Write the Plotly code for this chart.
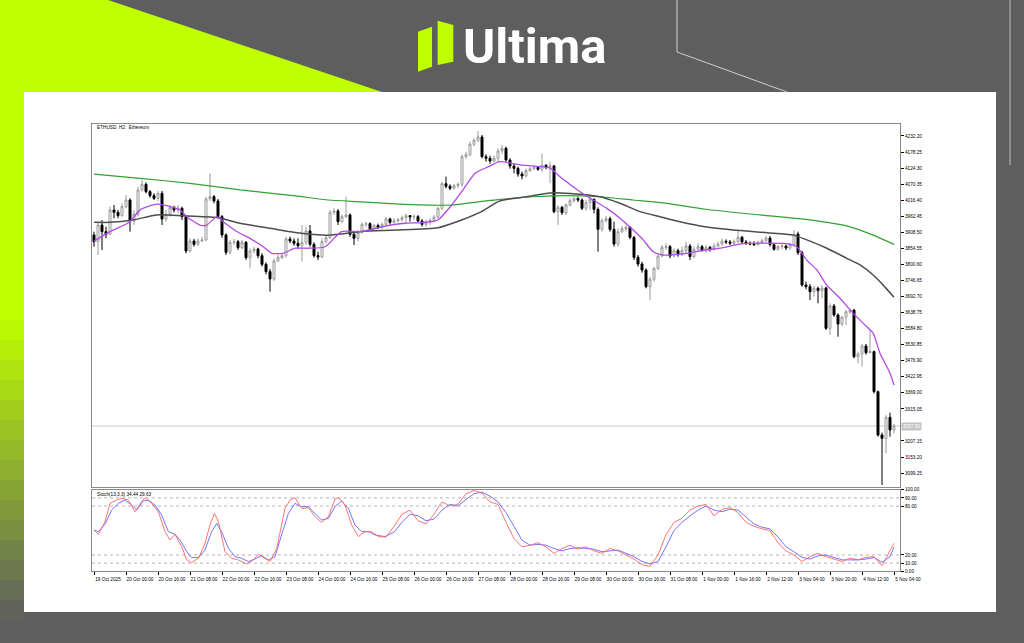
import plotly.graph_objects as go

W, H = 1024, 643


def px(x):
    return x / W


def py(y):
    return 1 - y / H


def poly(points):
    return 'M ' + ' L '.join(f'{px(x):.5f},{py(y):.5f}' for x, y in points) + ' Z'


# ---- ETHUSD H2 candles (bar index 0..200) ----
opens = [
    3899.5, 3877.1, 3933.1, 3910.7, 3901.7, 3983.5, 3975.7, 3964.5, 3994.7, 4017.1,
    3946.6, 3969.0, 4050.7, 4069.8, 4045.1, 4031.7, 4022.7, 4039.5, 3953.3, 3969.0,
    3991.4, 3983.5, 3989.1, 3961.1, 3845.7, 3879.3, 3868.1, 3879.3, 3882.7, 4020.5,
    4028.3, 4013.8, 3961.1, 3899.5, 3841.2, 3874.9, 3877.1, 3856.9, 3874.9, 3823.3,
    3845.7, 3852.4, 3830.0, 3800.9, 3776.3, 3751.6, 3812.1, 3823.3, 3830.0, 3886.1,
    3879.3, 3871.5, 3863.6, 3874.9, 3912.9, 3868.1, 3830.0, 3825.6, 3877.1, 3890.5,
    3975.7, 3980.2, 3944.3, 3961.1, 3966.7, 3901.7, 3888.3, 3908.5, 3935.4, 3937.6,
    3919.7, 3930.9, 3924.1, 3935.4, 3953.3, 3942.1, 3946.6, 3951.0, 3957.8, 3964.5,
    3960.0, 3961.1, 3946.6, 3935.4, 3942.1, 3948.8, 3960.0, 3989.1, 4072.0, 4063.1,
    4056.3, 4065.3, 4069.8, 4162.8, 4170.6, 4204.2, 4217.7, 4228.9, 4162.8, 4157.2,
    4148.2, 4157.2, 4181.8, 4190.8, 4151.5, 4131.4, 4123.5, 4104.5, 4097.8, 4115.7,
    4122.4, 4126.9, 4120.2, 4133.6, 4126.9, 4131.4, 3977.9, 3992.5, 3974.5, 4000.3,
    4014.9, 4021.6, 4017.1, 3989.1, 4008.2, 4019.3, 3985.8, 3918.5, 3947.6, 3954.3,
    3918.5, 3869.2, 3910.7, 3920.8, 3925.2, 3891.6, 3824.4, 3802.0, 3781.8, 3725.8,
    3750.5, 3787.4, 3828.9, 3858.0, 3860.3, 3828.9, 3846.8, 3833.4, 3846.8, 3862.5,
    3826.7, 3851.3, 3860.3, 3849.1, 3858.0, 3851.3, 3862.5, 3869.2, 3878.2, 3876.0,
    3871.5, 3877.1, 3891.6, 3876.0, 3871.5, 3869.2, 3867.0, 3873.7, 3880.4, 3889.4,
    3867.0, 3851.3, 3860.3, 3862.5, 3855.8, 3867.0, 3902.8, 3840.1, 3731.4, 3725.8,
    3709.0, 3720.2, 3712.4, 3721.4, 3585.8, 3660.9, 3630.6, 3600.4, 3622.8, 3641.8,
    3647.4, 3490.6, 3499.5, 3526.4, 3504.0, 3507.4, 3372.9, 3227.3, 3216.1, 3286.7,
    3244.1,
]
highs = [
    3910.7, 3944.3, 3949.9, 3927.5, 3994.7, 4000.3, 3983.5, 4005.9, 4033.9, 4022.7,
    3983.5, 4061.9, 4084.4, 4076.5, 4050.7, 4039.5, 4047.4, 4047.4, 3983.5, 4000.3,
    3998.1, 4000.3, 3994.7, 3966.7, 3888.3, 3886.1, 3888.3, 3893.9, 4028.3, 4106.8,
    4033.9, 4020.5, 3966.7, 3905.1, 3882.7, 3886.1, 3882.7, 3882.7, 3879.3, 3854.7,
    3860.3, 3856.9, 3837.9, 3807.6, 3785.2, 3821.1, 3832.3, 3837.9, 3893.9, 3893.9,
    3888.3, 3888.3, 3933.1, 3927.5, 3933.1, 3874.9, 3843.5, 3888.3, 3899.5, 3983.5,
    3989.1, 3986.9, 3969.0, 4028.3, 3972.3, 3912.9, 3916.3, 3942.1, 3944.3, 3942.1,
    3937.6, 3937.6, 3942.1, 3960.0, 3957.8, 3955.5, 3957.8, 3964.5, 3971.2, 3966.7,
    3969.0, 3966.7, 3953.3, 3949.9, 3955.5, 3966.7, 3994.7, 4078.7, 4095.6, 4069.8,
    4072.0, 4076.5, 4170.6, 4179.6, 4213.2, 4224.4, 4249.0, 4235.6, 4170.6, 4166.1,
    4166.1, 4190.8, 4202.0, 4196.4, 4157.1, 4138.1, 4129.1, 4112.3, 4123.5, 4129.1,
    4133.6, 4131.4, 4173.9, 4138.1, 4145.9, 4134.7, 4000.3, 3996.9, 4006.0, 4022.7,
    4028.3, 4028.3, 4022.7, 4017.1, 4028.3, 4022.7, 3992.5, 3955.5, 3963.3, 3961.1,
    3944.3, 3921.9, 3929.7, 3933.1, 3929.7, 3896.1, 3832.3, 3809.8, 3787.4, 3759.4,
    3793.1, 3837.9, 3865.9, 3871.5, 3865.9, 3854.7, 3853.6, 3860.3, 3877.1, 3869.2,
    3860.3, 3871.5, 3865.9, 3865.9, 3862.5, 3871.5, 3877.1, 3888.3, 3884.9, 3882.7,
    3884.9, 3916.3, 3896.1, 3882.7, 3878.2, 3878.2, 3880.4, 3887.2, 3896.1, 3896.1,
    3871.5, 3864.8, 3869.2, 3867.0, 3871.5, 3916.3, 3910.7, 3846.8, 3742.6, 3734.8,
    3728.1, 3725.8, 3731.4, 3725.8, 3669.8, 3667.6, 3636.2, 3627.3, 3647.4, 3653.0,
    3649.7, 3507.4, 3533.2, 3533.2, 3580.2, 3510.7, 3376.3, 3235.1, 3294.5, 3302.4,
    3264.3,
]
lows = [
    3860.3, 3832.3, 3849.1, 3888.3, 3899.5, 3955.5, 3955.5, 3961.1, 3989.1, 3910.7,
    3933.1, 3961.1, 4045.1, 4039.5, 4025.0, 4017.1, 4013.8, 3933.1, 3944.3, 3961.1,
    3975.7, 3972.3, 3949.9, 3837.9, 3841.2, 3860.3, 3863.6, 3874.9, 3879.3, 4013.8,
    4005.9, 3955.5, 3890.5, 3832.3, 3834.5, 3865.9, 3849.1, 3852.4, 3815.5, 3787.5,
    3837.9, 3821.1, 3793.1, 3767.3, 3709.0, 3744.9, 3807.6, 3818.8, 3823.3, 3871.5,
    3863.6, 3852.4, 3809.9, 3865.9, 3860.3, 3823.3, 3815.5, 3821.1, 3871.5, 3886.1,
    3966.7, 3933.1, 3938.7, 3955.5, 3893.9, 3865.9, 3877.1, 3904.0, 3926.4, 3912.9,
    3917.4, 3919.7, 3919.7, 3930.9, 3935.4, 3937.6, 3942.1, 3944.3, 3935.4, 3944.3,
    3949.9, 3942.1, 3927.5, 3926.4, 3933.1, 3944.3, 3953.3, 3983.5, 4056.3, 4049.6,
    4051.9, 4056.3, 4061.9, 4154.9, 4163.9, 4197.5, 4210.9, 4157.2, 4146.0, 4139.2,
    4143.7, 4146.0, 4171.7, 4145.9, 4122.4, 4106.7, 4095.5, 4086.6, 4093.3, 4111.2,
    4117.9, 4115.7, 4111.2, 4120.2, 4073.1, 3972.3, 3933.1, 3966.7, 3966.7, 3994.7,
    4008.2, 4010.4, 3983.5, 3981.2, 3983.5, 3972.3, 3843.5, 3910.7, 3940.9, 3910.7,
    3860.3, 3860.3, 3905.1, 3910.7, 3884.9, 3815.4, 3793.1, 3772.9, 3720.2, 3681.0,
    3742.6, 3781.8, 3824.4, 3849.1, 3821.1, 3824.4, 3826.7, 3828.9, 3835.6, 3815.4,
    3821.1, 3846.8, 3843.5, 3840.1, 3843.5, 3846.8, 3858.0, 3862.5, 3869.2, 3865.9,
    3867.0, 3871.5, 3869.2, 3865.9, 3864.8, 3862.5, 3864.8, 3869.2, 3876.0, 3860.3,
    3846.8, 3846.8, 3851.3, 3849.1, 3849.1, 3860.3, 3832.3, 3725.8, 3716.9, 3681.0,
    3692.2, 3669.8, 3686.6, 3580.2, 3563.4, 3625.0, 3557.8, 3593.6, 3597.0, 3634.0,
    3485.0, 3468.2, 3457.0, 3497.3, 3501.8, 3367.3, 3221.7, 3059.3, 3165.7, 3221.7,
    3232.9,
]
closes = [
    3877.1, 3933.1, 3910.7, 3901.7, 3983.5, 3975.7, 3964.5, 3994.7, 4017.1, 3946.6,
    3969.0, 4050.7, 4069.8, 4045.1, 4031.7, 4022.7, 4039.5, 3953.3, 3969.0, 3991.4,
    3983.5, 3989.1, 3961.1, 3845.7, 3879.3, 3868.1, 3879.3, 3882.7, 4020.5, 4028.3,
    4013.8, 3961.1, 3899.5, 3841.2, 3874.9, 3877.1, 3856.9, 3874.9, 3823.3, 3845.7,
    3852.4, 3830.0, 3800.9, 3776.3, 3751.6, 3812.1, 3823.3, 3830.0, 3886.1, 3879.3,
    3871.5, 3863.6, 3874.9, 3912.9, 3868.1, 3830.0, 3825.6, 3877.1, 3890.5, 3975.7,
    3980.2, 3944.3, 3961.1, 3966.7, 3901.7, 3888.3, 3908.5, 3935.4, 3937.6, 3919.7,
    3930.9, 3924.1, 3935.4, 3953.3, 3942.1, 3946.6, 3951.0, 3957.8, 3964.5, 3960.0,
    3961.1, 3946.6, 3935.4, 3942.1, 3948.8, 3960.0, 3989.1, 4072.0, 4063.1, 4056.3,
    4065.3, 4069.8, 4162.8, 4170.6, 4204.2, 4217.7, 4228.9, 4162.8, 4157.2, 4148.2,
    4157.2, 4181.8, 4190.8, 4151.5, 4131.4, 4123.5, 4104.5, 4097.8, 4115.7, 4122.4,
    4126.9, 4120.2, 4133.6, 4126.9, 4131.4, 3977.9, 3992.5, 3974.5, 4000.3, 4014.9,
    4021.6, 4017.1, 3989.1, 4008.2, 4019.3, 3985.8, 3918.5, 3947.6, 3954.3, 3918.5,
    3869.2, 3910.7, 3920.8, 3925.2, 3891.6, 3824.4, 3802.0, 3781.8, 3725.8, 3750.5,
    3787.4, 3828.9, 3858.0, 3860.3, 3828.9, 3846.8, 3833.4, 3846.8, 3862.5, 3826.7,
    3851.3, 3860.3, 3849.1, 3858.0, 3851.3, 3862.5, 3869.2, 3878.2, 3876.0, 3871.5,
    3877.1, 3891.6, 3876.0, 3871.5, 3869.2, 3867.0, 3873.7, 3880.4, 3889.4, 3867.0,
    3851.3, 3860.3, 3862.5, 3855.8, 3867.0, 3902.8, 3840.1, 3731.4, 3725.8, 3709.0,
    3720.2, 3712.4, 3721.4, 3585.8, 3660.9, 3630.6, 3600.4, 3622.8, 3641.8, 3647.4,
    3490.6, 3499.5, 3526.4, 3504.0, 3507.4, 3372.9, 3227.3, 3216.1, 3286.7, 3244.1,
    3257.5,
]

# ---- moving averages (bar index, price) ----
ma_fast_x = [0, 4, 9, 11.5, 15.7, 19, 21.5, 23.2, 26.5, 28.2,
             30.7, 32.3, 35.7, 39, 42.3, 44.4, 47.3, 50.3, 53.6, 57.8,
             61.9, 66.9, 71.9, 77.8, 81.9, 86, 89.4, 91.9, 95.3, 98.6,
             101.5, 106.5, 114, 116.5, 121.5, 124.8, 128.2, 131.5, 134.8, 137.3,
             139.8, 142.3, 148.2, 152.8, 156.5, 161.5, 168.2, 174, 175.7, 178.2,
             180.7, 183.2, 186.5, 189.8, 193.2, 194.8, 196.5, 199, 200]
ma_fast = [3879, 3911, 3944, 3984, 4003, 3995, 3984, 3961, 3933, 3933,
           3961, 3944, 3911, 3888, 3860, 3838, 3838, 3855, 3855, 3860,
           3911, 3911, 3927, 3939, 3941, 3950, 4000, 4045, 4107, 4129,
           4146, 4135, 4124, 4095, 4045, 4017, 3989, 3956, 3916, 3883,
           3843, 3832, 3838, 3849, 3855, 3869, 3872, 3869, 3860, 3815,
           3782, 3731, 3687, 3636, 3591, 3569, 3502, 3435, 3395]

ma_mid_x = [0, 4, 9.8, 15.7, 22.3, 30.7, 36.5, 44, 50.3, 58.6,
            66.9, 75.3, 86, 91.9, 96.9, 101.5, 108.2, 114, 119, 126.5,
            131.5, 136.5, 141.5, 146.5, 152.8, 159.8, 168.2, 174.8, 178.2, 183.2,
            188.2, 191.5, 194.8, 197.3, 200]
ma_mid = [3942, 3942, 3950, 3967, 3964, 3958, 3939, 3922, 3908, 3899,
          3911, 3916, 3924, 3950, 3978, 4014, 4028, 4041, 4039, 4028,
          4006, 3978, 3961, 3944, 3927, 3916, 3907, 3899, 3883, 3855,
          3821, 3799, 3765, 3731, 3690]

ma_slow_x = [0, 11.5, 24, 36.5, 50.3, 58.6, 66.9, 75.3, 83.6, 89.4, 94.4, 101.5,
             109.8, 118.2, 126.5, 134.8, 143.2, 152.8, 166.5, 179, 189, 194.8, 200]
ma_slow = [4104, 4090, 4073, 4051, 4031, 4017, 4011, 4004, 4000, 4000, 4008, 4019,
           4028, 4032, 4028, 4017, 4006, 3986, 3967, 3950, 3927, 3899, 3868]

# ---- stochastic (13,3,3) ----
stoch_k_x = [0, 1.1, 2.75, 4, 5.7, 6.9, 8.6, 10.25, 11.9, 12.75,
             14.4, 16.1, 17.75, 19, 20.25, 21.9, 23.2, 24.4, 26.1, 27.75,
             29, 30.1, 31.1, 32.75, 34.4, 36.1, 38.2, 39.8, 41.1, 42.75,
             44, 45.7, 47.75, 49, 50.25, 51.9, 53.6, 55.25, 56.9, 58.6,
             60.25, 61.1, 62.75, 64.4, 66.1, 67.75, 69.4, 71.1,
             73, 75, 77, 79, 81, 83, 85, 87, 89, 91,
             93, 95, 97, 99, 101, 103, 105, 107, 109, 111,
             113, 115, 117, 119, 121, 123, 125, 127, 129, 131,
             133, 135, 137, 139, 141, 143, 145, 147, 149, 151,
             153, 155, 157, 159, 161, 163, 165, 167, 169, 171,
             173, 175, 177, 179, 181, 183, 185, 187, 189, 191,
             193, 195, 197, 199, 200]
stoch_k = [50.6, 45.3, 60.8, 83.3, 87.3, 89.4, 87.3, 73, 85.3, 90.2,
           83.3, 73, 48.6, 38.4, 45.3, 30.2, 13.9, 10.6, 15.9, 34.3,
           56.7, 71, 60.8, 24.1, 15.9, 13.9, 9, 13.9, 20.8, 15.1,
           11.9, 28.2, 77.1, 87.3, 90.2, 77.1, 78, 66.9, 60, 66.9,
           88.6, 90.2, 81.2, 56.7, 42.5, 48.6, 48.6, 42.5,
           42, 55, 70, 75, 62, 58, 70, 85, 80, 82,
           95, 99, 96, 85, 82, 60, 40, 30, 32, 35,
           30, 22, 28, 32, 27, 30, 25, 22, 28, 25,
           20, 15, 8, 6, 20, 45, 60, 65, 75, 80,
           82, 68, 76, 78, 72, 60, 55, 52, 50, 35,
           25, 20, 12, 18, 22, 18, 15, 12, 16, 14,
           17, 18, 7, 25, 34.44]

stoch_d_x = [0, 1.1, 2.75, 4.4, 6.1, 7.75, 9.4, 10.7, 12.3, 13.6,
             15.25, 16.9, 18.6, 20.25, 21.5, 23.2, 24.4, 26.1, 27.75, 29.4,
             30.7, 31.9, 33.6, 35.25, 36.9, 38.6, 40.25, 41.9, 43.6, 45.25,
             46.9, 48.6, 50.25, 51.9, 53.6, 55.25, 56.9, 58.6, 60.25, 61.9,
             63.6, 65.25, 66.9, 68.6, 70.25, 72.75,
             75, 77, 79, 81, 83, 85, 87, 89, 91, 93,
             95, 97, 99, 101, 103, 105, 107, 109, 111, 113,
             115, 117, 119, 121, 123, 125, 127, 129, 131, 133,
             135, 137, 139, 141, 143, 145, 147, 149, 151, 153,
             155, 157, 159, 161, 163, 165, 167, 169, 171, 173,
             175, 177, 179, 181, 183, 185, 187, 189, 191, 193,
             195, 197, 199, 200]
stoch_d = [50.6, 48.6, 57.6, 75.1, 83.3, 87.3, 81.2, 75.1, 86.1, 87.3,
           81.2, 69, 48.6, 45.3, 38.4, 24.1, 16.8, 16.8, 26.1, 48.6,
           58.8, 48.6, 28.2, 18, 15.9, 11.9, 15.1, 19.2, 13.9, 18,
           44.5, 71, 83.3, 79.2, 79.2, 71, 62.9, 64.9, 79.2, 86.1,
           77.1, 56.7, 48.6, 48.6, 44.5, 42.5,
           48, 60, 70, 68, 62, 64, 75, 82, 80, 88,
           95, 97, 92, 85, 72, 55, 38, 32, 33, 32,
           28, 25, 28, 29, 28, 27, 24, 25, 26, 22,
           18, 12, 9, 12, 30, 50, 60, 68, 75, 80,
           75, 73, 76, 75, 66, 58, 54, 52, 42, 30,
           24, 17, 15, 19, 20, 17, 14, 14, 14, 15,
           17, 11, 18, 29.63]

stoch_levels = [90, 80, 20, 10]

# ---- axis labels ----
price_ticks = ['4232.20', '4178.25', '4124.30', '4070.35', '4016.40', '3962.45',
               '3908.50', '3854.55', '3800.60', '3746.65', '3692.70', '3638.75',
               '3584.80', '3530.85', '3476.90', '3422.95', '3369.00', '3315.05',
               '3207.15', '3153.20', '3099.25']
stoch_ticks = ['100.00', '90.00', '80.00', '20.00', '10.00', '0.00']
time_labels = ['19 Oct 2025', '20 Oct 00:00', '20 Oct 16:00', '21 Oct 08:00', '22 Oct 00:00',
               '22 Oct 16:00', '23 Oct 08:00', '24 Oct 00:00', '24 Oct 16:00', '25 Oct 08:00',
               '26 Oct 00:00', '26 Oct 16:00', '27 Oct 08:00', '28 Oct 00:00', '28 Oct 16:00',
               '29 Oct 08:00', '30 Oct 00:00', '30 Oct 16:00', '31 Oct 08:00', '1 Nov 00:00',
               '1 Nov 16:00', '2 Nov 12:00', '3 Nov 04:00', '3 Nov 20:00', '4 Nov 12:00',
               '5 Nov 04:00']

bars = list(range(len(closes)))
time_tick_bars = [8 * i for i in range(len(time_labels))]

LIME = '#bfff00'
GRAY_BG = '#5e5e5e'
tiny = dict(family='Liberation Sans, Arial, sans-serif', size=4.7, color='#000000')

fig = go.Figure()

fig.add_trace(go.Candlestick(
    x=bars, open=opens, high=highs, low=lows, close=closes,
    increasing=dict(line=dict(color='#9a9a9a', width=1), fillcolor='#ffffff'),
    decreasing=dict(line=dict(color='#000000', width=1), fillcolor='#000000'),
    whiskerwidth=0, showlegend=False, hoverinfo='skip', xaxis='x', yaxis='y'))

for xs, ys, col, w in [(ma_slow_x, ma_slow, '#32a032', 1.2),
                       (ma_mid_x, ma_mid, '#4d4d4d', 1.5),
                       (ma_fast_x, ma_fast, '#b04ae8', 1.3)]:
    fig.add_trace(go.Scatter(
        x=xs, y=ys, mode='lines',
        line=dict(color=col, width=w, shape='spline', smoothing=0.6),
        showlegend=False, hoverinfo='skip', xaxis='x', yaxis='y'))

fig.add_trace(go.Scatter(
    x=stoch_d_x, y=stoch_d, mode='lines', line=dict(color='#6464ff', width=0.9),
    showlegend=False, hoverinfo='skip', xaxis='x2', yaxis='y2'))
fig.add_trace(go.Scatter(
    x=stoch_k_x, y=stoch_k, mode='lines', line=dict(color='#ff6464', width=0.9),
    showlegend=False, hoverinfo='skip', xaxis='x2', yaxis='y2'))

# ---- background decoration ----
shapes = []
shapes.append(dict(type='path', xref='paper', yref='paper', layer='below',
                   path=poly([(0, 0), (108, 0), (382, 92), (24, 92), (24, 320), (0, 320)]),
                   fillcolor=LIME, line=dict(width=0)))
lime_rgb = (191, 255, 0)
gray_rgb = (94, 94, 94)
n_bands = 15
for k in range(n_bands):
    t = (k + 0.5) / n_bands
    c = tuple(int(lime_rgb[j] + (gray_rgb[j] - lime_rgb[j]) * t) for j in range(3))
    y0 = 320 + k * 20
    shapes.append(dict(type='rect', xref='paper', yref='paper', layer='below',
                       x0=px(0), x1=px(24), y0=py(y0), y1=py(y0 + 21),
                       fillcolor=f'rgb{c}', line=dict(width=0)))
shapes.append(dict(type='rect', xref='paper', yref='paper', layer='below',
                   x0=px(24), x1=px(996), y0=py(612), y1=py(92),
                   fillcolor='#ffffff', line=dict(width=0)))
shapes.append(dict(type='path', xref='paper', yref='paper', layer='below',
                   path='M ' + ' L '.join(f'{px(x):.5f},{py(y):.5f}' for x, y in [(677, 0), (677, 52), (787, 92)]),
                   line=dict(color='#cfcfcf', width=1)))
shapes.append(dict(type='line', xref='paper', yref='paper', layer='below',
                   x0=px(1010), x1=px(1010), y0=py(0), y1=py(165),
                   line=dict(color='#bdbdbd', width=1)))

# logo mark
shapes.append(dict(type='path', xref='paper', yref='paper',
                   path=poly([(418, 31.7), (432, 26.7), (432, 66.7), (418, 71.7)]),
                   fillcolor=LIME, line=dict(width=0)))
shapes.append(dict(type='path', xref='paper', yref='paper',
                   path=poly([(437.6, 20.7), (453.3, 25), (453.3, 61.7), (437.6, 65)]),
                   fillcolor=LIME, line=dict(width=0)))

# current price line and stochastic levels
shapes.append(dict(type='line', xref='x', yref='y', layer='below',
                   x0=-0.5, x1=201.5, y0=closes[-1], y1=closes[-1],
                   line=dict(color='#c8c8c8', width=1)))
for lv in stoch_levels:
    shapes.append(dict(type='line', xref='x2', yref='y2', layer='below',
                       x0=-0.5, x1=201.5, y0=lv, y1=lv,
                       line=dict(color='#b4b4b4', width=1, dash='dot')))

annotations = [
    dict(text='Ultima', xref='paper', yref='paper', x=px(461), y=py(47),
         xanchor='left', yanchor='middle', showarrow=False,
         font=dict(family='Roboto, sans-serif', size=49, color='#ffffff', weight='bold')),
    dict(text='ETHUSD, H2:  Ethereum', xref='paper', yref='paper', x=px(95), y=py(128),
         xanchor='left', yanchor='middle', showarrow=False, font=tiny),
    dict(text='Stoch(13,3,3) %.2f %.2f' % (stoch_k[-1], stoch_d[-1]), xref='paper', yref='paper',
         x=px(95), y=py(494), xanchor='left', yanchor='middle', showarrow=False, font=tiny),
    dict(text='%.2f' % closes[-1], xref='paper', yref='y', x=px(901), y=closes[-1],
         xanchor='left', yanchor='middle', showarrow=False, bgcolor='#c4c4c4', borderpad=1,
         font=dict(family='Liberation Sans, Arial, sans-serif', size=4.7, color='#ffffff')),
]

fig.update_layout(
    width=W, height=H, autosize=False,
    margin=dict(l=0, r=0, t=0, b=0, pad=0, autoexpand=False),
    paper_bgcolor=GRAY_BG, plot_bgcolor='#ffffff',
    showlegend=False,
    shapes=shapes, annotations=annotations,
    xaxis=dict(domain=[px(92), px(900)], range=[-0.5, 201.5], anchor='y',
               showticklabels=False, ticks='', showgrid=False, zeroline=False,
               showline=True, mirror=True, linecolor='#8a8a8a', linewidth=1,
               rangeslider=dict(visible=False), fixedrange=True, automargin=False),
    yaxis=dict(domain=[py(487), py(124)], range=[3052.5, 4272.5], anchor='x', side='right',
               tickmode='array', tickvals=[float(t) for t in price_ticks], ticktext=price_ticks,
               ticks='outside', ticklen=3, tickwidth=1, tickcolor='#000000', tickfont=tiny,
               showgrid=False, zeroline=False, showline=True, mirror=True,
               linecolor='#8a8a8a', linewidth=1, fixedrange=True, automargin=False),
    xaxis2=dict(domain=[px(92), px(900)], range=[-0.5, 201.5], anchor='y2',
                tickmode='array', tickvals=time_tick_bars, ticktext=time_labels,
                ticks='outside', ticklen=3, tickwidth=1, tickcolor='#000000', tickfont=tiny,
                ticklabelshift=14, showgrid=False, zeroline=False,
                showline=True, mirror=True, linecolor='#8a8a8a', linewidth=1, fixedrange=True,
                automargin=False),
    yaxis2=dict(domain=[py(571.3), py(489.7)], range=[0, 100], anchor='x2', side='right',
                tickmode='array', tickvals=[float(t) for t in stoch_ticks], ticktext=stoch_ticks,
                ticks='outside', ticklen=3, tickwidth=1, tickcolor='#000000', tickfont=tiny,
                showgrid=False, zeroline=False, showline=True, mirror=True,
                linecolor='#8a8a8a', linewidth=1, fixedrange=True, automargin=False),
)

fig.write_html('out.html', config={'responsive': False, 'displayModeBar': False},
               post_script="document.body.style.margin='0';document.body.style.overflow='hidden';")
